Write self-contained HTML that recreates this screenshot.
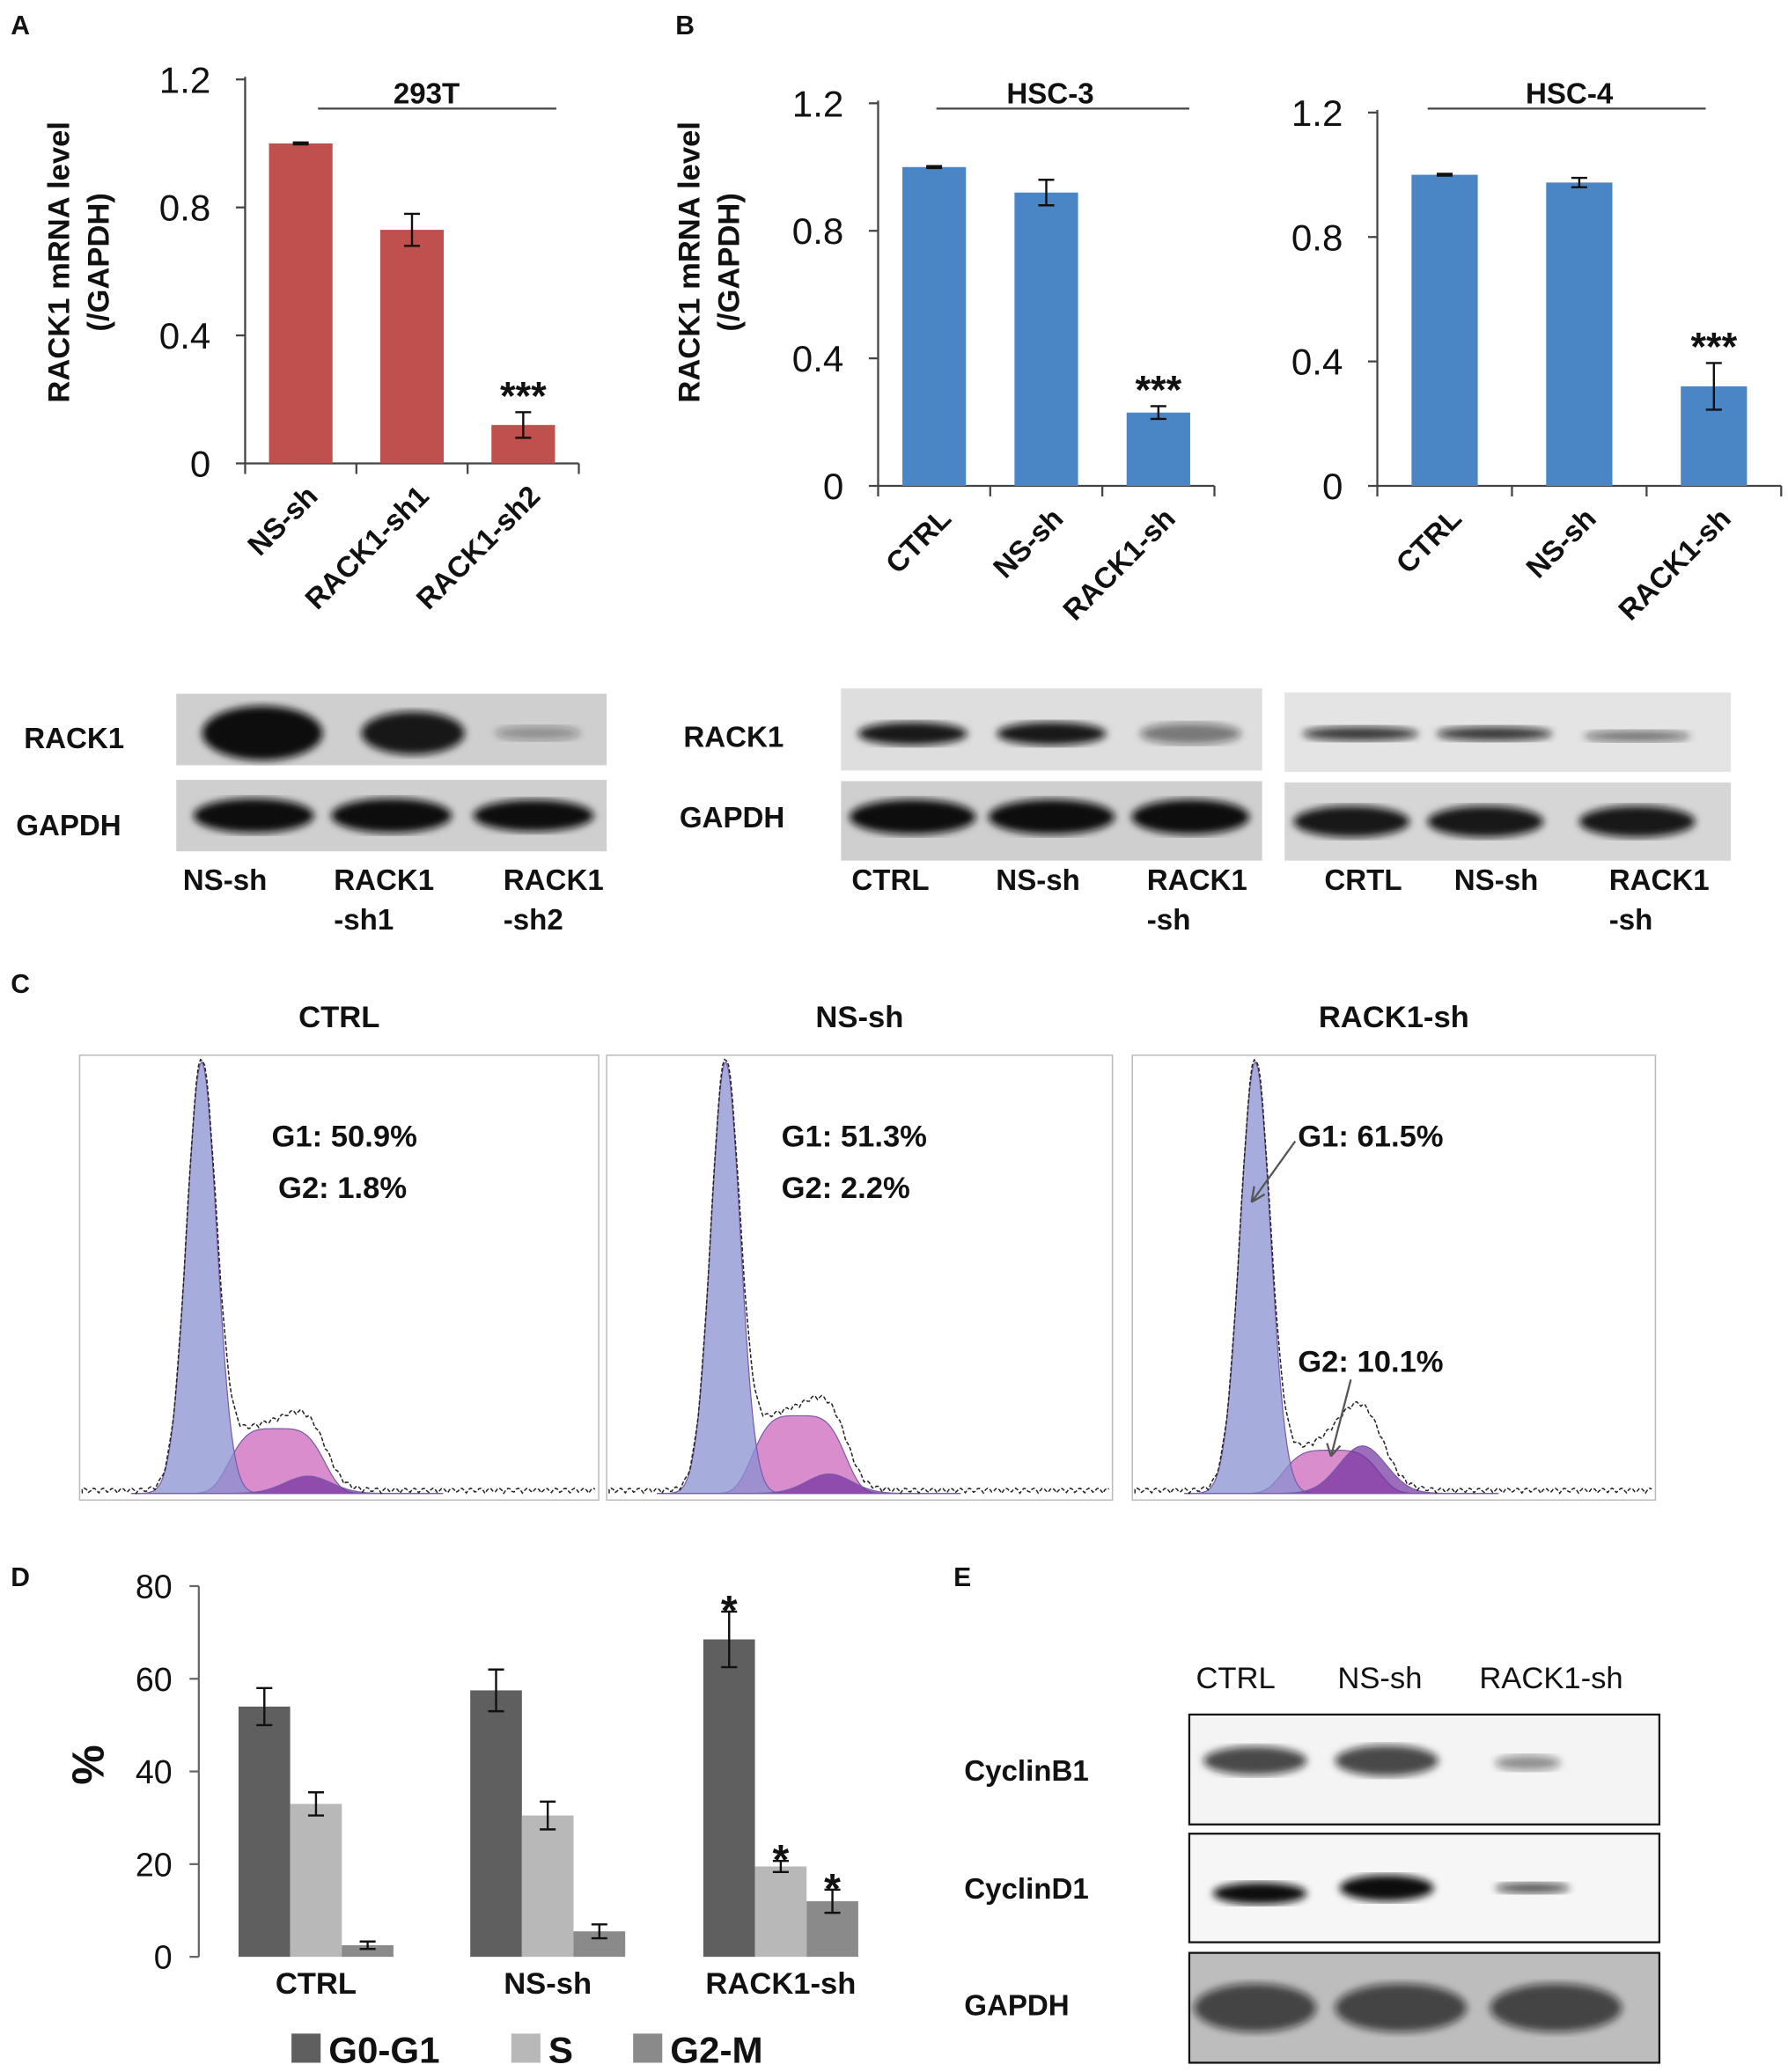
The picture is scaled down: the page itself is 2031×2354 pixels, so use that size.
<!DOCTYPE html>
<html><head><meta charset="utf-8">
<style>
html,body{margin:0;padding:0;background:#fff;}
svg{display:block;}
text{font-family:"Liberation Sans",Arial,sans-serif;}
</style></head>
<body>
<svg id="fig" xmlns="http://www.w3.org/2000/svg" width="2031" height="2354" viewBox="0 0 1350 1565">
<defs>
<filter id="blur3"><feGaussianBlur stdDeviation="3"/></filter>
</defs>
<g id="root"></g>
</svg>
<script>
// ---------- data ----------
const catA = ["NS-sh","RACK1-sh1","RACK1-sh2"];
const valA = [1.0,0.73,0.12];
const errA = [0.003,0.05,0.04];
const catB = ["CTRL","NS-sh","RACK1-sh"];
const valB = [1.0,0.92,0.23];
const errB = [0.003,0.04,0.02];
const catC = ["CTRL","NS-sh","RACK1-sh"];
const valC = [1.0,0.975,0.32];
const errC = [0.003,0.015,0.075];
const sigA = ["","","***"];
const sigB = ["","","***"];
const sigC = ["","","***"];
const yTicks12 = [0,0.4,0.8,1.2];
const yTickLabels12 = ["0","0.4","0.8","1.2"];

const groupsD = ["CTRL","NS-sh","RACK1-sh"];
const seriesD = ["G0-G1","S","G2-M"];
const g0g1 = [54,57.5,68.5];
const sPhase = [33,30.5,19.5];
const g2m = [2.5,5.5,12];
const errG0 = [4,4.5,6];
const errS = [2.5,3,1.2];
const errG2 = [0.8,1.5,2.5];
const sigG0 = ["","","*"];
const sigS = ["","","*"];
const sigG2 = ["","","*"];
const yTicksD = [0,20,40,60,80];

const flowTitles = ["CTRL","NS-sh","RACK1-sh"];
const flowG1 = ["G1: 50.9%","G1: 51.3%","G1: 61.5%"];
const flowG2 = ["G2: 1.8%","G2: 2.2%","G2: 10.1%"];
const flowG1height = [1.0,1.0,1.0];
const flowSheight = [0.15,0.18,0.1];
const flowG2height = [0.04,0.045,0.11];

// ---------- helpers ----------
const NS="http://www.w3.org/2000/svg";
const root=document.getElementById('root');
function mk(tag,attrs,parent,txt){const e=document.createElementNS(NS,tag);for(const k in attrs)e.setAttribute(k,attrs[k]);if(txt!==undefined)e.textContent=txt;(parent||root).appendChild(e);return e;}
function lin(d0,d1,r0,r1){return v=>r0+(v-d0)/(d1-d0)*(r1-r0);}

function barPanel(o){
  const g=mk('g',{});
  
  
  const y=lin(0,1.2,o.y0,o.y1);
  const ax=mk('line',{x1:o.ax,y1:o.y1-2,x2:o.ax,y2:o.y0,stroke:'#444','stroke-width':1.5},g);
  
  const xa=mk('line',{x1:o.ax,y1:o.y0,x2:o.xend,y2:o.y0,stroke:'#444','stroke-width':1.5},g);
  
  yTicks12.forEach((t,i)=>{
    mk('line',{x1:o.ax-7,y1:y(t),x2:o.ax,y2:y(t),stroke:'#444','stroke-width':1.5},g);
    const tl=mk('text',{x:o.ax-26,y:y(t)+10,'text-anchor':'end','font-size':28,fill:'#111'},g,yTickLabels12[i]);
    
  });
  const n=o.cats.length, step=(o.xend-o.ax)/n;
  for(let i=0;i<=n;i++) mk('line',{x1:o.ax+i*step,y1:o.y0,x2:o.ax+i*step,y2:o.y0+8,stroke:'#444','stroke-width':1.5},g);
  o.cats.forEach((c,i)=>{
    const cx=o.ax+step*(i+0.5);
    const b=mk('rect',{x:cx-o.bw/2,y:y(o.vals[i]),width:o.bw,height:o.y0-y(o.vals[i]),fill:o.color},g);
    
    const e1=y(o.vals[i]+o.errs[i]),e2=y(o.vals[i]-o.errs[i]);
    mk('path',{d:`M${cx} ${e1}V${e2}M${cx-6} ${e1}H${cx+6}M${cx-6} ${e2}H${cx+6}`,stroke:'#111','stroke-width':1.6,fill:'none'},g);
    if(o.sig[i]){const s=mk('text',{x:cx,y:e1-2,'text-anchor':'middle','font-size':30,'font-weight':'bold',fill:'#111'},g,o.sig[i]);}
    const lx=cx+14, ly=o.y0+26;
    const t=mk('text',{x:lx,y:ly,'text-anchor':'end','font-size':22,'font-weight':'bold',fill:'#111',transform:`rotate(-45 ${lx} ${ly})`},g,c);
    
  });
  const tt=mk('text',{x:o.tx,y:o.ty,'text-anchor':'middle','font-size':22,'font-weight':'bold',fill:'#111'},g,o.title);
  
  mk('line',{x1:o.tl1,y1:o.ty+4,x2:o.tl2,y2:o.ty+4,stroke:'#444','stroke-width':1.5},g);
}
function ylabel(x,cy){
  const t=mk('text',{x:x,y:cy,'text-anchor':'middle','font-size':23,'font-weight':'bold',fill:'#111',transform:`rotate(-90 ${x} ${cy})`},root,'RACK1 mRNA level');
  
  const t2=mk('text',{x:x+30,y:cy,'text-anchor':'middle','font-size':23,'font-weight':'bold',fill:'#111',transform:`rotate(-90 ${x+30} ${cy})`},root,'(/GAPDH)');
  
}
function label(txt,x,y,size,name,anchor,weight){
  const t=mk('text',{x:x,y:y,'font-size':size,'font-weight':weight||'bold',fill:'#111','text-anchor':anchor||'start'},root,txt);
  return t;
}
function blot(x,y,w,h,bg,bands,name,border){
  const g=mk('g',{});
  
  mk('rect',{x:x,y:y,width:w,height:h,fill:bg,stroke:border?'#111':'none','stroke-width':1.5},g);
  bands.forEach(b=>{mk('ellipse',{cx:x+w*b[0],cy:y+h*b[1],rx:w*b[2],ry:h*b[3],fill:'#111','fill-opacity':b[4],filter:'url(#blur3)'},g);});
}

// ---------- panel labels ----------
label('A',8,26,20,'panel-label-a');
label('B',510,26,20,'panel-label-b');
label('C',8,750,20,'panel-label-c');
label('D',8,1198,20,'panel-label-d');
label('E',720,1198,20,'panel-label-e');

// ---------- panel A/B bar charts ----------
ylabel(52,198); ylabel(528,198);
barPanel({name:'chart-293t',ax:185,xend:437,y0:350,y1:60,bw:48,cats:catA,vals:valA,errs:errA,sig:sigA,color:'#c0504d',title:'293T',tx:322,ty:78,tl1:240,tl2:420});
barPanel({name:'chart-hsc3',ax:663,xend:917,y0:367,y1:78,bw:48,cats:catB,vals:valB,errs:errB,sig:sigB,color:'#4a86c5',title:'HSC-3',tx:793,ty:78,tl1:707,tl2:898});
barPanel({name:'chart-hsc4',ax:1040,xend:1345,y0:367,y1:85,bw:50,cats:catC,vals:valC,errs:errC,sig:sigC,color:'#4a86c5',title:'HSC-4',tx:1185,ty:78,tl1:1078,tl2:1288});

// ---------- western blots A/B ----------
label('RACK1',18,565,22,'blot-label-rack1');
label('GAPDH',12,631,22,'blot-label-gapdh');
blot(133,524,325,54,'#cfcfcf',[[0.2,0.55,0.14,0.38,1],[0.55,0.55,0.12,0.3,0.95],[0.84,0.55,0.1,0.1,0.35]],'blot-293t-rack1');
blot(133,589,325,54,'#cfcfcf',[[0.18,0.5,0.14,0.24,1],[0.5,0.5,0.14,0.24,1],[0.83,0.5,0.14,0.22,1]],'blot-293t-gapdh');
label('NS-sh',138,672,22,'lane-label');label('RACK1',252,672,22,'lane-label');label('-sh1',252,702,22,'lane-label');label('RACK1',380,672,22,'lane-label');label('-sh2',380,702,22,'lane-label');

label('RACK1',516,564,22,'blot-label-rack1');
label('GAPDH',513,625,22,'blot-label-gapdh');
blot(635,520,318,62,'#dedede',[[0.17,0.55,0.13,0.14,0.95],[0.5,0.55,0.13,0.14,0.95],[0.83,0.55,0.12,0.13,0.5]],'blot-hsc3-rack1');
blot(635,590,318,60,'#cfcfcf',[[0.17,0.45,0.15,0.22,1],[0.5,0.45,0.15,0.22,1],[0.83,0.45,0.14,0.22,1]],'blot-hsc3-gapdh');
label('CTRL',643,672,22,'lane-label');label('NS-sh',752,672,22,'lane-label');label('RACK1',866,672,22,'lane-label');label('-sh',866,702,22,'lane-label');

blot(970,523,337,60,'#e4e4e4',[[0.17,0.52,0.13,0.09,0.8],[0.47,0.52,0.13,0.09,0.8],[0.79,0.55,0.12,0.07,0.55]],'blot-hsc4-rack1');
blot(970,591,337,59,'#d6d6d6',[[0.15,0.5,0.13,0.2,0.95],[0.45,0.5,0.13,0.2,0.95],[0.79,0.5,0.13,0.2,0.95]],'blot-hsc4-gapdh');
label('CRTL',1000,672,22,'lane-label');label('NS-sh',1098,672,22,'lane-label');label('RACK1',1215,672,22,'lane-label');label('-sh',1215,702,22,'lane-label');

// ---------- panel C flow cytometry ----------
const flowX=[60,458,855], flowW=[392,382,395];
flowTitles.forEach((t,i)=>{
  const x0=flowX[i],w=flowW[i],y0=797,h=336,base=y0+h-5;
  const g=mk('g',{});
  
  mk('rect',{x:x0,y:y0,width:w,height:h,fill:'#fff',stroke:'#bbb','stroke-width':1},g);
  const X=f=>x0+f*w, H=v=>base-v*(h-10);
  const gauss=(f,m,s)=>Math.exp(-((f-m)*(f-m))/(2*s*s));
  const g1=f=>flowG1height[i]*gauss(f,0.235,0.029);
  const sP=f=>flowSheight[i]*(Math.exp(-Math.pow((f-0.38)/0.1,4)));
  const g2=f=>flowG2height[i]*gauss(f,0.44,0.045);
  function area(fn,fill,op){let d=`M${X(0.1)} ${base}`;for(let f=0.1;f<=0.7;f+=0.004)d+=`L${X(f)} ${H(fn(f))}`;d+=`L${X(0.7)} ${base}Z`;mk('path',{d:d,fill:fill,'fill-opacity':op,stroke:'#7a5aa8','stroke-width':0.8},g);}
  area(sP,'#d070c0',0.8);
  area(g1,'#8890d0',0.75);
  area(g2,'#7030a0',0.7);
  let d=`M${X(0.005)} ${base}`;for(let f=0.005;f<=0.995;f+=0.004){const v=g1(f)+sP(f)+g2(f)+0.012*Math.abs(Math.sin(f*173));d+=`L${X(f)} ${H(v)}`;}
  mk('path',{d:d,fill:'none',stroke:'#222','stroke-width':1,'stroke-dasharray':'3 1.5'},g);
  const tt=mk('text',{x:x0+w/2,y:776,'text-anchor':'middle','font-size':23,'font-weight':'bold',fill:'#111'},root,t);
  
});
label(flowG1[0],205,866,23,'g1-percent');label(flowG2[0],210,905,23,'g2-percent');
label(flowG1[1],590,866,23,'g1-percent');label(flowG2[1],590,905,23,'g2-percent');
label(flowG1[2],980,866,23,'g1-percent');label(flowG2[2],980,1036,23,'g2-percent');
mk('path',{d:'M978 862L945 908M945 908l2 -12M945 908l10 -6',stroke:'#555','stroke-width':1.5,fill:'none'});
mk('path',{d:'M1020 1042L1005 1100M1005 1100l-3 -10M1005 1100l7 -8',stroke:'#555','stroke-width':1.5,fill:'none'});

// ---------- panel D grouped bars ----------
(function(){
  const g=mk('g',{});
  
  const ax=150,y0=1478,y1=1198,y=lin(0,80,y0,y1);
  mk('line',{x1:ax,y1:y1,x2:ax,y2:y0,stroke:'#666','stroke-width':1.5},g);
  yTicksD.forEach(t=>{mk('line',{x1:ax-7,y1:y(t),x2:ax,y2:y(t),stroke:'#666','stroke-width':1.5},g);
    const tl=mk('text',{x:ax-20,y:y(t)+9,'text-anchor':'end','font-size':25,fill:'#111'},g,String(t));
    });
  const yt=mk('text',{x:78,y:1333,'text-anchor':'middle','font-size':34,'font-weight':'bold',fill:'#111',transform:'rotate(-90 78 1333)'},g,'%');
  
  const series=[g0g1,sPhase,g2m], errs=[errG0,errS,errG2], sigs=[sigG0,sigS,sigG2];
  const colors=['#5f5f5f','#b8b8b8','#8a8a8a'];
  const gx=[180,355,531], bw=39;
  groupsD.forEach((c,gi)=>{
    series.forEach((s,si)=>{
      const x=gx[gi]+si*bw, cx=x+bw/2;
      const b=mk('rect',{x:x,y:y(s[gi]),width:bw,height:y0-y(s[gi]),fill:colors[si]},g);
      
      const e1=y(s[gi]+errs[si][gi]),e2=y(s[gi]-errs[si][gi]);
      mk('path',{d:`M${cx} ${e1}V${e2}M${cx-6} ${e1}H${cx+6}M${cx-6} ${e2}H${cx+6}`,stroke:'#111','stroke-width':1.6,fill:'none'},g);
      if(sigs[si][gi]){const t=mk('text',{x:cx,y:e1+10,'text-anchor':'middle','font-size':32,'font-weight':'bold',fill:'#111'},g,sigs[si][gi]);}
    });
    const t=mk('text',{x:gx[gi]+bw*1.5,y:1506,'text-anchor':'middle','font-size':23,'font-weight':'bold',fill:'#111'},g,c);
    
  });
  const lx=[220,386,478];
  seriesD.forEach((s,i)=>{
    const r=mk('rect',{x:lx[i],y:1536,width:22,height:22,fill:colors[i]},g);
    
    const t=mk('text',{x:lx[i]+28,y:1558,'font-size':28,'font-weight':'bold',fill:'#111'},g,s);
    
  });
})();

// ---------- panel E blots ----------
label('CTRL',903,1275,23,'lane-label',null,'normal');
label('NS-sh',1010,1275,23,'lane-label',null,'normal');
label('RACK1-sh',1117,1275,23,'lane-label',null,'normal');
label('CyclinB1',728,1345,22,'blot-label-cyclinb1');
label('CyclinD1',728,1434,22,'blot-label-cyclind1');
label('GAPDH',728,1522,22,'blot-label-gapdh');
blot(898,1295,355,83,'#f4f4f4',[[0.14,0.42,0.11,0.13,0.75],[0.42,0.42,0.11,0.14,0.75],[0.72,0.44,0.07,0.07,0.45]],'blot-cyclinb1',true);
blot(898,1385,355,82,'#f6f6f6',[[0.15,0.55,0.1,0.1,1],[0.42,0.5,0.1,0.12,1],[0.73,0.5,0.08,0.05,0.7]],'blot-cyclind1',true);
blot(898,1475,355,83,'#bdbdbd',[[0.14,0.5,0.13,0.22,0.7],[0.45,0.5,0.14,0.22,0.7],[0.78,0.5,0.14,0.22,0.7]],'blot-gapdh-e',true);
</script>
</body></html>
